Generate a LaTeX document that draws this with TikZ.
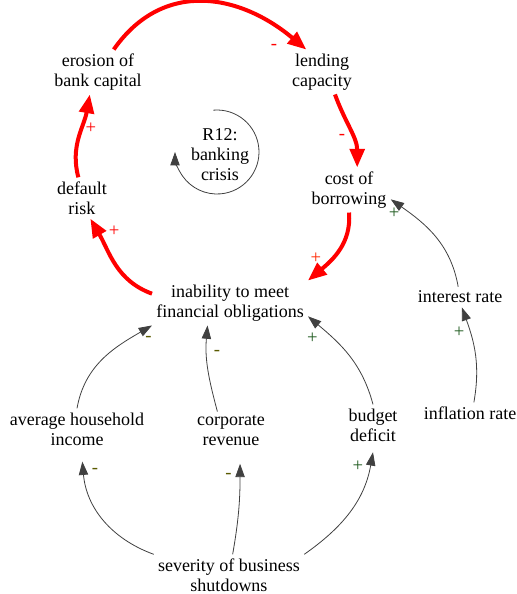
\documentclass[tikz,border=0pt]{standalone}
\usepackage{fontspec}
\setmainfont{Liberation Serif}
\newfontfamily\cldfont{Liberation Serif}
\usetikzlibrary{arrows.meta}

\definecolor{plusgreen}{RGB}{30,90,30}
\definecolor{minusolive}{RGB}{90,90,0}

\begin{document}
\begin{tikzpicture}[
  x=0.75pt, y=0.75pt,
  font=\cldfont\fontsize{13.5}{15}\selectfont,
  var/.style={align=center, inner sep=3pt},
  loop/.style={-{Triangle[length=14pt,width=11pt]}, red, line width=3pt},
  link/.style={-{Triangle[length=10pt,width=7pt]}, black!75, line width=0.6pt},
  sgn/.style={font=\cldfont\fontsize{14}{14}\selectfont, inner sep=1pt},
  plussign/.style={sgn, text=plusgreen},
  minussign/.style={sgn, text=minusolive}
]
\path[use as bounding box] (0,0) rectangle (517,-594);

\node[var] (erosion) at (98,-72) {erosion of\\bank capital};
\node[var] (lending) at (322,-72) {lending\\capacity};
\node[var] (cost) at (349,-190) {cost of\\borrowing};
\node[var] (default) at (82,-198) {default\\risk};
\node[var] (inability) at (230,-303) {inability to meet\\financial obligations};
\node[var] (interest) at (460,-297) {interest rate};
\node[var] (inflation) at (470,-413) {inflation rate};
\node[var] (income) at (77,-429) {average household\\income};
\node[var] (revenue) at (231,-431) {corporate\\revenue};
\node[var] (deficit) at (373,-425) {budget\\deficit};
\node[var] (shutdown) at (229,-575) {severity of business\\shutdowns};
\node[var] (r12) at (220,-155) {R12:\\banking\\crisis};

% reinforcing loop
\draw[loop] (erosion.55) to[out=55,in=140,looseness=1.15]
  node[pos=0.84, below=11pt, sgn, text=red] {-} (lending.125);
\draw[loop] (lending.-60) to[out=-70,in=90]
  node[pos=0.6, left=3pt, sgn, text=red] {-} (cost.70);
\draw[loop] (cost.south) to[out=-85,in=40]
  node[pos=0.62, left=6pt, sgn, text=red!70!orange] {+} (inability.north east);
\draw[loop] ([yshift=7pt]inability.west) to[out=160,in=-60]
  node[pos=0.75, above right=2pt, sgn, text=red] {+} (default.-68);
\draw[loop] (default.100) to[out=105,in=-100]
  node[pos=0.6, right=1pt, sgn, text=red] {+} (erosion.-110);

% loop marker
\draw[link] (r12) ++(-3,3) ++(95:42) arc[start angle=95, end angle=-180, radius=42];

% outside influences
\draw[link] (interest.100) to[out=100,in=-35]
  node[pos=0.9, below left, plussign] {+} ([yshift=-7pt]cost.east);
\draw[link] (inflation.70) to[out=80,in=-70]
  node[pos=0.75, left=3pt, plussign] {+} (interest.-80);
\draw[link] (income.north) to[out=80,in=-150]
  node[pos=0.9, below right=2pt, minussign] {-} (inability.south west);
\draw[link] (revenue.125) to[out=105,in=-95]
  node[pos=0.7, right=4pt, minussign] {-} (inability.-135);
\draw[link] (deficit.north) to[out=105,in=-40]
  node[pos=0.85, below left=2pt, plussign] {+} ([yshift=-10pt]inability.east);
\draw[link] (shutdown.north west) to[out=160,in=-85]
  node[pos=0.93, right=5pt, minussign] {-} ([xshift=4pt,yshift=-9pt]income.south);
\draw[link] (shutdown.80) to[out=80,in=-90]
  node[pos=0.88, left=5pt, minussign] {-} ([yshift=-10pt]revenue.-65);
\draw[link] (shutdown.north east) to[out=35,in=-100]
  node[pos=0.9, left=4pt, plussign] {+} ([yshift=-5pt]deficit.south);

\end{tikzpicture}
\end{document}
